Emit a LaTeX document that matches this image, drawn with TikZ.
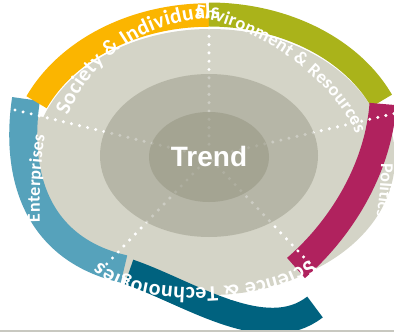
\documentclass[tikz,border=0pt]{standalone}
\usepackage{fontspec}
\setmainfont{Carlito}
\newfontfamily\bandfont{Carlito}
\newfontfamily\trendfont{Liberation Sans}
\usetikzlibrary{decorations.text}
\definecolor{cYellow}{HTML}{FBB500}
\definecolor{cGreen}{HTML}{AAB31A}
\definecolor{cMagenta}{HTML}{B0225E}
\definecolor{cTeal}{HTML}{00627F}
\definecolor{cBlue}{HTML}{56A2BB}
\definecolor{cGrayA}{HTML}{D4D4C7}
\definecolor{cMidOv}{RGB}{154,154,136}
\definecolor{cInOv}{RGB}{147,147,127}
\definecolor{cLine}{HTML}{C8C8C0}
\newcommand\fSI{\bandfont\bfseries\fontsize{21.5}{26}\selectfont}
\newcommand\fER{\bandfont\bfseries\fontsize{18.5}{22}\selectfont}
\newcommand\fEN{\bandfont\bfseries\fontsize{18}{21}\selectfont}
\newcommand\fPO{\bandfont\bfseries\fontsize{18}{21}\selectfont}
\newcommand\fST{\bandfont\bfseries\fontsize{22}{26}\selectfont}
\begin{document}
\begin{tikzpicture}[x=1pt,y=-1pt,
  band/.style={line width=#1, line cap=butt, line join=round},
  dotline/.style={white, line width=3.4pt, line cap=round, dash pattern=on 0pt off 8.3pt},
  fittext/.style={decorate, decoration={text along path, text color=white, text align={fit to path}, text={#1}}},
  lefttext/.style={decorate, decoration={text along path, text color=white, text={#1}}}
]
\useasboundingbox (0,0) rectangle (394,332);
\clip (0,0) rectangle (394,332);
\fill[white] (0,0) rectangle (394,332);

% gray base
\fill[cGrayA] (210,162) ellipse [x radius=177, y radius=133];
\begin{scope}
  \clip (209,157) -- (2,374) -- (-90,374) -- (-90,85) -- cycle;
  \fill[cGrayA] (204,167) ellipse [x radius=180, y radius=133];
\end{scope}
\begin{scope}
  \clip (209,157) -- (501,89) -- (501,375) -- (415,375) -- cycle;
  \fill[cGrayA] (218,158) ellipse [x radius=177, y radius=133];
\end{scope}

% coloured bands
\draw[band=28pt, cBlue] (26,99) .. controls (14,180) and (40,250) .. (124,269);
\draw[band=26pt, cTeal] (129,272) .. controls (188,292) and (265,346) .. (315,307);
\draw[band=23.5pt, cYellow] plot[domain=204.5:270, samples=60] ({209+189.5*cos(\x)},{164+149*sin(\x)});
\draw[band=24pt, cGreen] plot[domain=270:336, samples=60] ({209+189*cos(\x)},{160+145.5*sin(\x)});
\draw[band=27pt, cMagenta] (383,104) .. controls (378,170) and (340,230) .. (296,268);

% dotted separators
\draw[dotline] (209,28) -- (209,157);
\draw[dotline] (15,110) -- (209,157);
\draw[dotline] (394,113.6) -- (209,157);
\draw[dotline] (101,270) -- (209,157);
\draw[dotline] (315,269) -- (209,157);

% inner rings
\fill[cMidOv, opacity=0.5] (209,155.5) ellipse [x radius=109, y radius=81.5];
\fill[cInOv, opacity=0.5] (209,157) ellipse [x radius=60, y radius=45];

% texts along the rim
\path[fittext={|\fSI|Society {\&} Individuals}] plot[domain=199.5:271, samples=80] ({217+158*cos(\x)},{165+147*sin(\x)});
\path[fittext={|\fER|Environment {\&} Resources}] (195,17) .. controls (256,25) and (332,78) .. (356,134);
\path[fittext={|\fEN|Enterprises}] (40,222) .. controls (39,190) and (41,160) .. (45,135);
\path[lefttext={|\fPO|Politics}] (381,163) .. controls (381,185) and (379,205) .. (374,228);
\path[fittext={|\fST|Science {\&} Technologies}] (309,259) .. controls (280,290) and (140,302) .. (100,262);

\node[font=\trendfont\bfseries\fontsize{28}{30}\selectfont, text=white, inner sep=0pt] (trend) at (209,156.5) {Trend};

\draw[cLine, line width=1.2pt] (0,331) -- (394,331);
\end{tikzpicture}
\end{document}
